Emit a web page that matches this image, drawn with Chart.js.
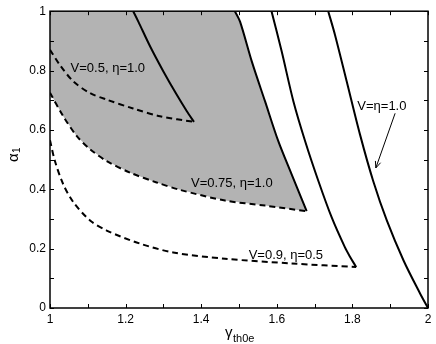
<!DOCTYPE html>
<html>
<head>
<meta charset="utf-8">
<script src="https://cdn.jsdelivr.net/npm/chart.js@4/dist/chart.umd.min.js"></script>
<style>
  html, body { margin: 0; padding: 0; background: #fff; }
</style>
</head>
<body>
<canvas id="chart" width="436" height="344"></canvas>
<script>
// axis ticks
const xTickValues = [1, 1.2, 1.4, 1.6, 1.8, 2];
const xTickLabels = ['1', '1.2', '1.4', '1.6', '1.8', '2'];
const yTickValues = [0, 0.2, 0.4, 0.6, 0.8, 1];
const yTickLabels = ['0', '0.2', '0.4', '0.6', '0.8', '1'];
const xMinorTicks = [1.1, 1.3, 1.5, 1.7, 1.9];
const yMinorTicks = [0.1, 0.3, 0.5, 0.7, 0.9];

// curves, [gamma, alpha] pairs
const v05Solid = [[1.220, 1.0], [1.234, 0.964], [1.265, 0.881], [1.300, 0.797], [1.335, 0.719], [1.362, 0.663], [1.381, 0.627]];
const v05Dashed = [[1.0, 0.870], [1.026, 0.819], [1.062, 0.763], [1.106, 0.724], [1.150, 0.702], [1.220, 0.672], [1.291, 0.646], [1.381, 0.627]];
const v075Solid = [[1.489, 1.0], [1.503, 0.964], [1.534, 0.830], [1.569, 0.696], [1.604, 0.562], [1.639, 0.451], [1.679, 0.326]];
const v075Dashed = [[1.0, 0.725], [1.035, 0.646], [1.071, 0.579], [1.106, 0.535], [1.150, 0.495], [1.212, 0.456], [1.282, 0.423], [1.344, 0.398], [1.463, 0.362], [1.569, 0.345], [1.679, 0.326]];
const v09Solid = [[1.586, 1.0], [1.613, 0.864], [1.644, 0.696], [1.675, 0.562], [1.710, 0.428], [1.745, 0.306], [1.780, 0.205], [1.794, 0.172], [1.810, 0.138]];
const v09Dashed = [[1.0, 0.565], [1.013, 0.495], [1.035, 0.417], [1.062, 0.356], [1.106, 0.295], [1.150, 0.261], [1.238, 0.217], [1.326, 0.187], [1.463, 0.166], [1.639, 0.150], [1.810, 0.138]];
const v1Solid = [[1.736, 1.0], [1.754, 0.920], [1.785, 0.763], [1.820, 0.585], [1.855, 0.428], [1.891, 0.295], [1.935, 0.161], [1.979, 0.049], [2.0, 0.0]];

// labels in the plot, anchored in data units
const noteTexts = ['V=0.5, η=1.0', 'V=0.75, η=1.0', 'V=0.9, η=0.5', 'V=η=1.0'];
const noteX = [1.153, 1.481, 1.624, 1.878];
const noteY = [0.813, 0.424, 0.182, 0.683];
const arrowFrom = [1.913, 0.656];
const arrowTo = [1.862, 0.472];

const FONT = "'Liberation Sans', Arial, Helvetica, sans-serif";

function pts(arr) {
  return arr.map(p => ({ x: p[0], y: p[1] }));
}

// shaded region: top-left corner, down the V=0.75 solid edge, back along the V=0.75 dashed edge
const shadeRegion = [[1.0, 1.0]].concat(v075Solid, v075Dashed.slice().reverse());

function solidSet(arr) {
  return {
    data: pts(arr),
    borderColor: '#000',
    borderWidth: 2,
    tension: 0.3,
    fill: false,
    order: 1
  };
}

function dashedSet(arr) {
  return {
    data: pts(arr),
    borderColor: '#000',
    borderWidth: 2,
    borderDash: [6, 4],
    tension: 0.3,
    fill: false,
    order: 1
  };
}

const framePlugin = {
  id: 'frame',
  afterDatasetsDraw(chart) {
    const ctx = chart.ctx;
    const area = chart.chartArea;
    const xs = chart.scales.x;
    const ys = chart.scales.y;
    ctx.save();

    // box
    ctx.strokeStyle = '#000';
    ctx.lineWidth = 1.5;
    ctx.strokeRect(area.left, area.top, area.right - area.left, area.bottom - area.top);

    // inward ticks on all four sides
    ctx.lineWidth = 1;
    ctx.beginPath();
    xTickValues.concat(xMinorTicks).forEach(v => {
      const px = Math.round(xs.getPixelForValue(v)) + 0.5;
      ctx.moveTo(px, area.bottom);
      ctx.lineTo(px, area.bottom - 4);
      ctx.moveTo(px, area.top);
      ctx.lineTo(px, area.top + 4);
    });
    yTickValues.concat(yMinorTicks).forEach(v => {
      const py = Math.round(ys.getPixelForValue(v)) + 0.5;
      ctx.moveTo(area.left, py);
      ctx.lineTo(area.left + 4, py);
      ctx.moveTo(area.right, py);
      ctx.lineTo(area.right - 4, py);
    });
    ctx.stroke();

    // annotations
    ctx.fillStyle = '#000';
    ctx.font = '13px ' + FONT;
    ctx.textAlign = 'center';
    ctx.textBaseline = 'alphabetic';
    noteTexts.forEach((t, i) => {
      ctx.fillText(t, xs.getPixelForValue(noteX[i]), ys.getPixelForValue(noteY[i]) + 5);
    });

    // arrow
    const x0 = xs.getPixelForValue(arrowFrom[0]);
    const y0 = ys.getPixelForValue(arrowFrom[1]);
    const x1 = xs.getPixelForValue(arrowTo[0]);
    const y1 = ys.getPixelForValue(arrowTo[1]);
    const ang = Math.atan2(y1 - y0, x1 - x0);
    ctx.lineWidth = 1;
    ctx.beginPath();
    ctx.moveTo(x0, y0);
    ctx.lineTo(x1, y1);
    ctx.moveTo(x1 - 7 * Math.cos(ang - 0.4), y1 - 7 * Math.sin(ang - 0.4));
    ctx.lineTo(x1, y1);
    ctx.lineTo(x1 - 7 * Math.cos(ang + 0.4), y1 - 7 * Math.sin(ang + 0.4));
    ctx.stroke();

    // x title: gamma_th0e
    ctx.textAlign = 'left';
    ctx.font = '15px ' + FONT;
    ctx.fillText('γ', 225, 337);
    ctx.font = '11px ' + FONT;
    ctx.fillText('th0e', 233, 342);

    // y title: alpha_1
    ctx.translate(18, 162);
    ctx.rotate(-Math.PI / 2);
    ctx.font = '15px ' + FONT;
    ctx.fillText('α', 0, 0);
    ctx.font = '10px ' + FONT;
    ctx.fillText('1', 9, 2);

    ctx.restore();
  }
};

new Chart(document.getElementById('chart'), {
  type: 'scatter',
  data: {
    datasets: [
      {
        data: pts(shadeRegion),
        borderWidth: 0,
        borderColor: 'rgba(0,0,0,0)',
        backgroundColor: '#b3b3b3',
        fill: 'shape',
        tension: 0,
        order: 5
      },
      solidSet(v05Solid),
      dashedSet(v05Dashed),
      solidSet(v075Solid),
      dashedSet(v075Dashed),
      solidSet(v09Solid),
      dashedSet(v09Dashed),
      solidSet(v1Solid)
    ]
  },
  options: {
    responsive: false,
    animation: false,
    showLine: true,
    elements: { point: { radius: 0, hoverRadius: 0 } },
    layout: { padding: { left: 0, right: 8, top: 9, bottom: 0 } },
    plugins: {
      legend: { display: false },
      tooltip: { enabled: false }
    },
    scales: {
      x: {
        type: 'linear',
        min: 1,
        max: 2,
        afterBuildTicks: s => { s.ticks = xTickValues.map(v => ({ value: v })); },
        afterFit: s => { s.height = 36; },
        grid: { display: false, drawTicks: false },
        border: { display: false },
        ticks: {
          padding: 4,
          maxRotation: 0,
          color: '#000',
          font: { family: FONT, size: 12 },
          callback: (v, i) => xTickLabels[i]
        }
      },
      y: {
        type: 'linear',
        min: 0,
        max: 1,
        afterBuildTicks: s => { s.ticks = yTickValues.map(v => ({ value: v })); },
        afterFit: s => { s.width = 50; },
        grid: { display: false, drawTicks: false },
        border: { display: false },
        ticks: {
          padding: 4,
          color: '#000',
          font: { family: FONT, size: 12 },
          callback: (v, i) => yTickLabels[i]
        }
      }
    }
  },
  plugins: [framePlugin]
});
</script>
</body>
</html>
